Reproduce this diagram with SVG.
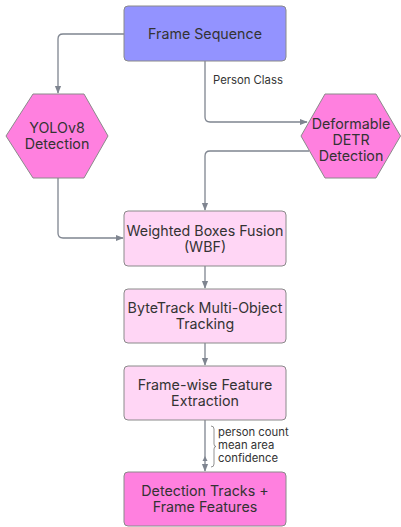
<svg xmlns="http://www.w3.org/2000/svg" width="401" height="527" viewBox="0 0 401 527">
<style>
.t{font-family:Inter,"Noto Sans","Liberation Sans",sans-serif;fill:#333;text-anchor:middle}
.n{font-size:14.25px}
.l{font-family:Inter,"Noto Sans","Liberation Sans",sans-serif;fill:#333;font-size:11.3px}
.e{fill:none;stroke:#7f8590;stroke-width:1.3}
.box{stroke:#8a8a8a;stroke-width:1}
</style>
<defs>
<marker id="ah" viewBox="0 0 10 10" refX="9" refY="5" markerWidth="6" markerHeight="6" orient="auto">
<path d="M0,1 L10,5 L0,9 z" fill="#7f8590"/>
</marker>
</defs>
<rect width="401" height="527" fill="#fff"/>
<g id="connectors">
<path class="e" d="M124,34 H63 Q58,34 58,39 V93" marker-end="url(#ah)"/>
<path class="e" d="M205,61 V117 Q205,122 210,122 H307" marker-end="url(#ah)"/>
<path class="e" d="M309,151 H210 Q205,151 205,156 V210" marker-end="url(#ah)"/>
<path class="e" d="M58,178 V233 Q58,238 63,238 H123" marker-end="url(#ah)"/>
<path class="e" d="M205,266 V288" marker-end="url(#ah)"/>
<path class="e" d="M205,343 V365" marker-end="url(#ah)"/>
<path class="e" d="M205,420 V471" marker-end="url(#ah)"/>
<path d="M202.5,461 L205,456 L207.5,461 z" fill="#7f8590"/>
<text class="l" x="213" y="83.5">Person Class</text>
<path d="M211,426 Q214,426 214,429 V444 Q214,446.5 216,446.5 Q214,446.5 214,449 V464 Q214,467 211,467" fill="none" stroke="#777" stroke-width="0.8"/>
<text class="l" x="218" y="436">person count</text>
<text class="l" x="218" y="449">mean area</text>
<text class="l" x="218" y="462">confidence</text>
</g>
<g id="frame-sequence">
<rect class="box" x="124" y="6" width="162" height="55" rx="4" fill="#9393ff"/>
<text class="t n" x="205" y="39">Frame Sequence</text>
</g>
<g id="yolo">
<polygon class="box" points="6,136 33,94 84,94 108,136 84,178 33,178" fill="#ff80df"/>
<text class="t n" x="57" y="133">YOLOv8</text>
<text class="t n" x="57" y="149">Detection</text>
</g>
<g id="detr">
<polygon class="box" points="301,136 325,94 376,94 400.5,136 376,178 325,178" fill="#ff80df"/>
<text class="t n" x="351" y="129">Deformable</text>
<text class="t n" x="351" y="145">DETR</text>
<text class="t n" x="351" y="161">Detection</text>
</g>
<g id="wbf">
<rect class="box" x="124" y="211" width="162" height="55" rx="4" fill="#ffd6f5"/>
<text class="t n" x="205" y="236">Weighted Boxes Fusion</text>
<text class="t n" x="205" y="252">(WBF)</text>
</g>
<g id="bytetrack">
<rect class="box" x="124" y="289" width="162" height="54" rx="4" fill="#ffd6f5"/>
<text class="t n" x="205" y="313">ByteTrack Multi-Object</text>
<text class="t n" x="205" y="329">Tracking</text>
</g>
<g id="feature-extraction">
<rect class="box" x="124" y="366" width="162" height="54" rx="4" fill="#ffd6f5"/>
<text class="t n" x="205" y="390">Frame-wise Feature</text>
<text class="t n" x="205" y="406">Extraction</text>
</g>
<g id="output">
<rect class="box" x="124" y="472" width="162" height="54" rx="4" fill="#ff80df"/>
<text class="t n" x="205" y="496">Detection Tracks +</text>
<text class="t n" x="205" y="512">Frame Features</text>
</g>
</svg>
